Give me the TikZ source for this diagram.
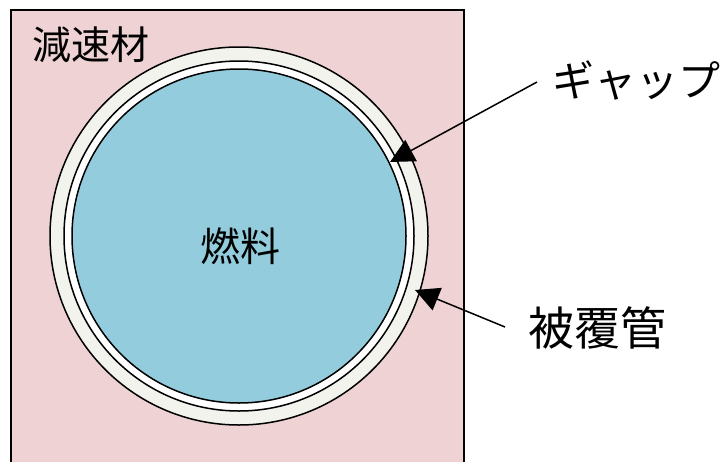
\documentclass[tikz,border=0pt]{standalone}
\usepackage{fontspec}
\newfontfamily\jp{Noto Sans CJK JP}
\usetikzlibrary{arrows.meta}
\definecolor{modpink}{HTML}{EFD2D3}
\definecolor{cladcol}{HTML}{F3F3ED}
\definecolor{fuelcol}{HTML}{93CDDD}
\tikzset{
  edge/.style={draw=black, line width=1.5pt},
  lbl/.style={inner sep=0pt, font=\jp},
  pointer/.style={draw=black, line width=1.5pt, -{Triangle[length=24pt,width=24pt]}}
}
\begin{document}
\begin{tikzpicture}[x=1pt,y=-1pt]
\useasboundingbox (0,0) rectangle (722,461);
\fill[white] (0,0) rectangle (722,461);
% moderator square (bottom extends beyond frame)
\path[edge, fill=modpink] (11,10) rectangle (464,480);
% cladding
\node[circle, edge, fill=cladcol, minimum size=378pt, inner sep=0pt] (clad) at (239,236) {};
% gap
\node[circle, edge, fill=white, minimum size=350pt, inner sep=0pt] (gap) at (239,236) {};
% fuel
\node[circle, edge, fill=fuelcol, minimum size=334pt, inner sep=0pt] (fuel) at (239,236) {};
% labels
\node[lbl, font=\jp\fontsize{39pt}{39pt}\selectfont] (mod) at (91,45) {減速材};
\node[lbl, font=\jp\fontsize{40pt}{40pt}\selectfont] (fuellbl) at (240,246) {燃料};
\node[lbl, font=\jp\fontsize{42pt}{42pt}\selectfont] (gaplbl) at (636,80) {ギャップ};
\node[lbl, font=\jp\fontsize{46pt}{46pt}\selectfont] (cladlbl) at (597,328) {被覆管};
% arrow ends
\coordinate (gapstart) at (537,82);
\coordinate (gaptip) at (390,162);
\coordinate (cladstart) at (505,327);
\coordinate (cladtip) at (415,290);
\draw[pointer] (gapstart) -- (gaptip);
\draw[pointer] (cladstart) -- (cladtip);
\end{tikzpicture}
\end{document}
